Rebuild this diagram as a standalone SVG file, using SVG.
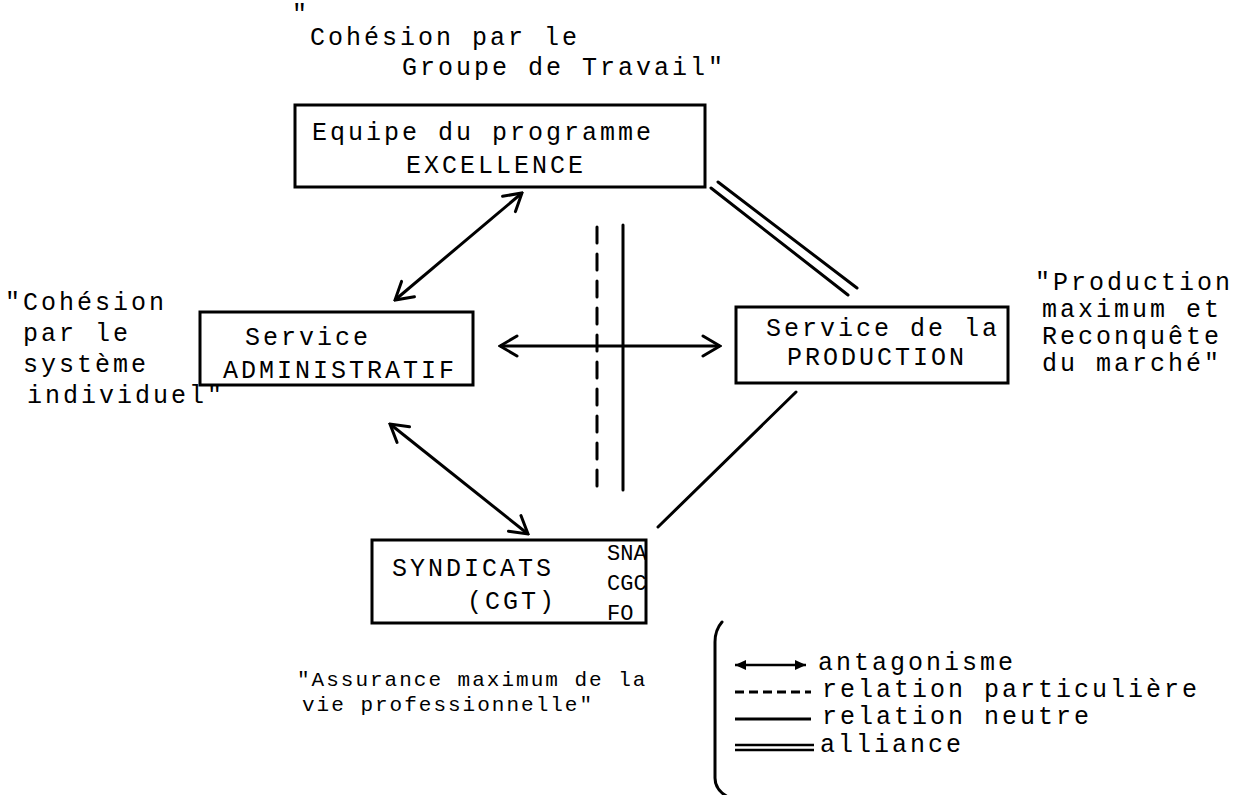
<svg xmlns="http://www.w3.org/2000/svg" width="1242" height="795" viewBox="0 0 1242 795">
<style>
.t{font-family:"Liberation Mono","DejaVu Sans Mono",monospace;font-size:25px;letter-spacing:3px;fill:#000}
.q2{font-family:"Liberation Mono","DejaVu Sans Mono",monospace;font-size:21px;letter-spacing:2px;fill:#000}
.s{font-family:"Liberation Mono","DejaVu Sans Mono",monospace;font-size:22px;fill:#000}
.box{fill:none;stroke:#000;stroke-width:3}
.ln{fill:none;stroke:#000;stroke-width:3;stroke-linecap:round}
.arr{fill:none;stroke:#000;stroke-width:3;marker-start:url(#v);marker-end:url(#v)}
.dash{stroke-dasharray:16 11}
</style>
<defs>
<marker id="v" viewBox="-20 -12 22 24" refX="0" refY="0" markerWidth="22" markerHeight="24" markerUnits="userSpaceOnUse" orient="auto-start-reverse">
<path d="M-17,-10 L0,0 L-17,10" fill="none" stroke="#000" stroke-width="3" stroke-linecap="round"/>
</marker>
<marker id="f" viewBox="-12 -6 13 12" refX="0" refY="0" markerWidth="13" markerHeight="12" markerUnits="userSpaceOnUse" orient="auto-start-reverse">
<path d="M-11,-5 L0,0 L-11,5 Z" fill="#000"/>
</marker>
<clipPath id="clipS"><rect x="590" y="536" width="56" height="90"/></clipPath>
</defs>
<rect width="1242" height="795" fill="#fff"/>

<g id="connectors">
<line class="arr" x1="395" y1="300" x2="522" y2="193"/>
<line class="arr" x1="500" y1="346" x2="720" y2="346"/>
<line class="arr" x1="390" y1="424" x2="528" y2="534"/>
<line class="ln dash" x1="597" y1="227" x2="597" y2="489"/>
<line class="ln" x1="623" y1="225" x2="623" y2="490"/>
<line class="ln" x1="718" y1="182" x2="857" y2="288"/>
<line class="ln" x1="711" y1="188" x2="848" y2="295"/>
<line class="ln" x1="796" y1="392" x2="658" y2="527"/>
</g>

<g id="n-excellence">
<rect class="box" x="295" y="105" width="410" height="82"/>
<text class="t" x="312" y="140">Equipe du programme</text>
<text class="t" x="406" y="173">EXCELLENCE</text>
</g>

<g id="n-admin">
<rect class="box" x="200" y="312" width="273" height="73"/>
<text class="t" x="245" y="345">Service</text>
<text class="t" x="223" y="378">ADMINISTRATIF</text>
</g>

<g id="n-production">
<rect class="box" x="736" y="307" width="272" height="76"/>
<text class="t" x="766" y="336">Service de la</text>
<text class="t" x="787" y="365">PRODUCTION</text>
</g>

<g id="n-syndicats">
<rect class="box" x="372" y="540" width="274" height="83"/>
<text class="t" x="392" y="576">SYNDICATS</text>
<text class="t" x="467" y="609">(CGT)</text>
<g clip-path="url(#clipS)">
<text class="s" x="607" y="560">SNA</text>
<text class="s" x="607" y="590">CGC</text>
<text class="s" x="607" y="620">FO</text>
</g>
</g>

<g id="label-top">
<text class="t" x="292" y="22">"</text>
<text class="t" x="310" y="45">Cohésion par le</text>
<text class="t" x="402" y="75">Groupe de Travail"</text>
</g>

<g id="label-left">
<text class="t" x="5" y="310">"Cohésion</text>
<text class="t" x="23" y="341">par le</text>
<text class="t" x="23" y="372">système</text>
<text class="t" x="27" y="403">individuel"</text>
</g>

<g id="label-right">
<text class="t" x="1035" y="290">"Production</text>
<text class="t" x="1042" y="317">maximum et</text>
<text class="t" x="1042" y="344">Reconquête</text>
<text class="t" x="1042" y="371">du marché"</text>
</g>

<g id="label-bottom">
<text class="q2" x="297" y="686">"Assurance maximum de la</text>
<text class="q2" x="302" y="711">vie professionnelle"</text>
</g>

<g id="legend">
<path class="ln" d="M722,622 Q715,630 715,642 L715,778 Q715,790 728,797"/>
<line x1="735" y1="665" x2="806" y2="665" stroke="#000" stroke-width="2.5" marker-start="url(#f)" marker-end="url(#f)"/>
<text class="t" x="818" y="670">antagonisme</text>
<line x1="735" y1="692" x2="811" y2="692" stroke="#000" stroke-width="3" stroke-dasharray="9 5"/>
<text class="t" x="822" y="697">relation particulière</text>
<line x1="735" y1="719" x2="811" y2="719" stroke="#000" stroke-width="3"/>
<text class="t" x="822" y="724">relation neutre</text>
<line x1="735" y1="745" x2="814" y2="745" stroke="#000" stroke-width="2.5"/>
<line x1="735" y1="750" x2="814" y2="750" stroke="#000" stroke-width="2.5"/>
<text class="t" x="820" y="752">alliance</text>
</g>
</svg>
